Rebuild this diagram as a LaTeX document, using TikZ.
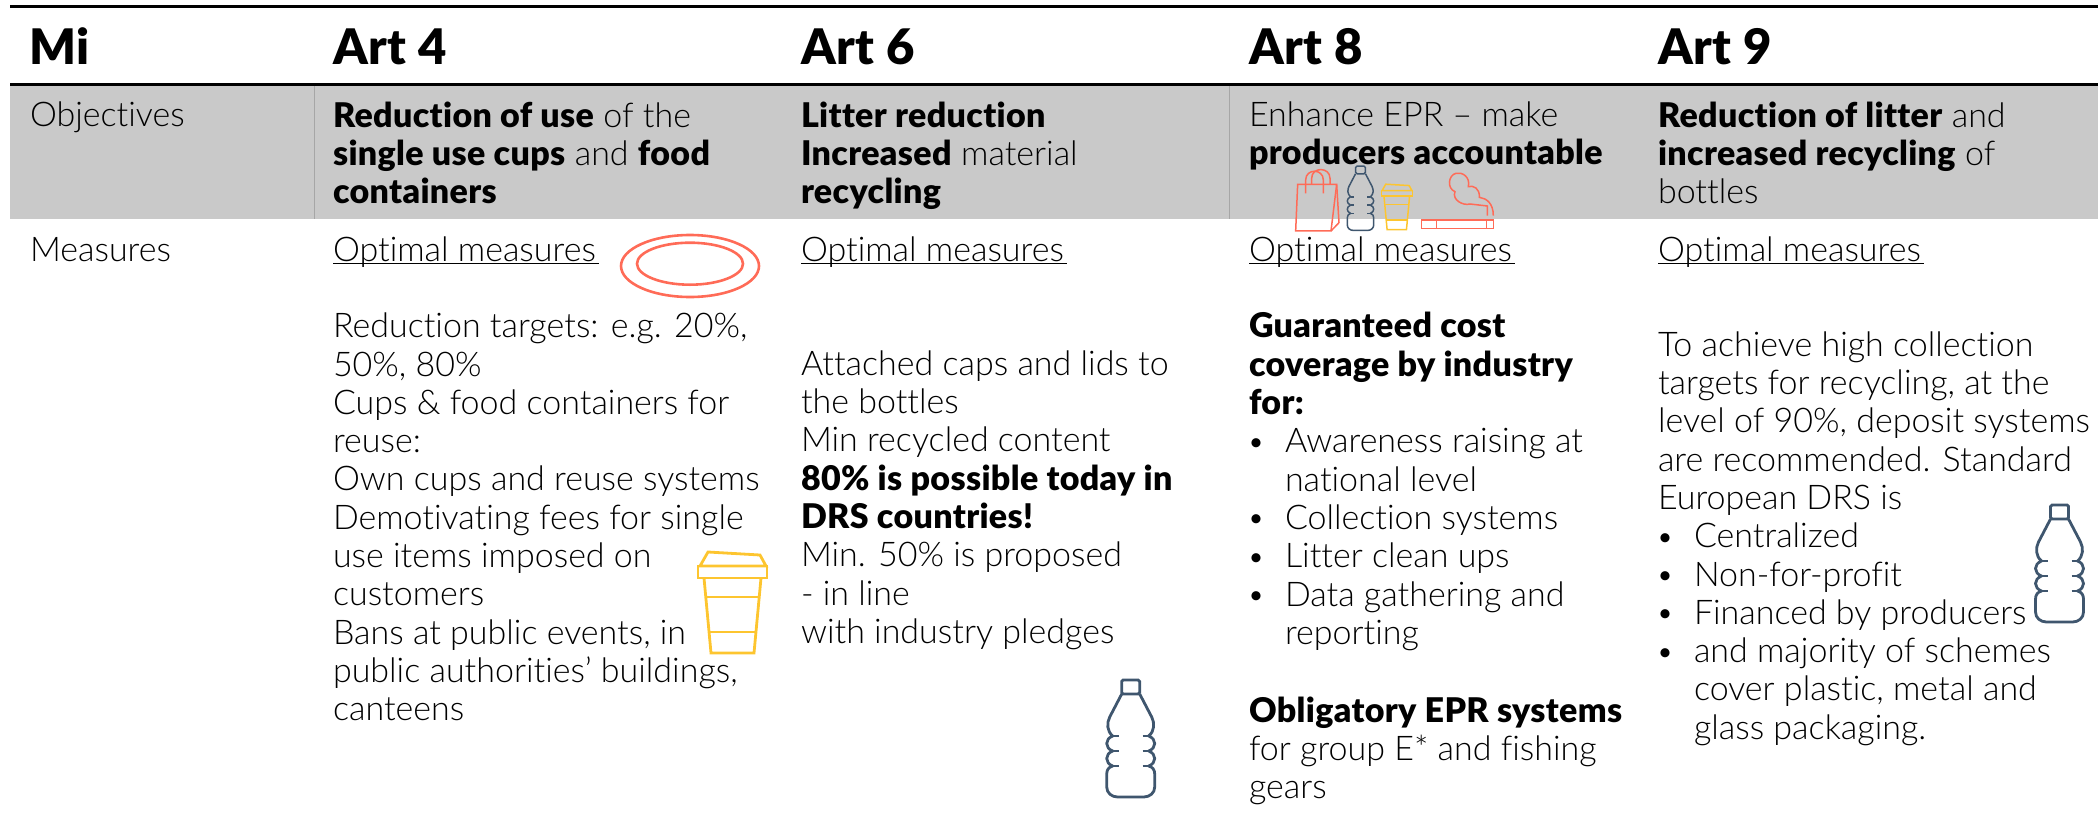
\documentclass[tikz,border=0pt]{standalone}
\usepackage{fontspec}
\setmainfont{Lato Light}[BoldFont={Lato Black},BoldFeatures={LetterSpace=1},Ligatures=NoCommon]
\definecolor{coral}{HTML}{FF6B57}
\definecolor{gold}{HTML}{FDC52F}
\definecolor{slateb}{HTML}{3F566E}
\definecolor{band}{HTML}{C9C9C9}
\tikzset{
  x=1pt,y=-1pt,
  body/.style={anchor=base west,inner sep=0pt,outer sep=0pt,align=left,font=\fontsize{34}{38.3}\selectfont},
  block/.style={body,anchor=north west,yshift=22.5pt,execute at begin node={\rule{0pt}{30pt}}},
  head/.style={anchor=base west,inner sep=0pt,outer sep=0pt,font=\fontsize{49}{50}\selectfont\bfseries},
  bottleicon/.pic={
    \draw[pic actions,rounded corners=1.5pt] (-9,-59) rectangle (9,-45);
    \draw[pic actions,line join=round] (-9,-45) -- (-21,-22) .. controls (-24,-16) and (-24,-8) .. (-18,-3)
      .. controls (-26,0) and (-26,9) .. (-18,12)
      .. controls (-26,15) and (-26,24) .. (-18,27)
      .. controls (-22,28) and (-24,31) .. (-24,35) -- (-24,48) .. controls (-24,54) and (-19,58) .. (-13,58)
      -- (13,58) .. controls (19,58) and (24,54) .. (24,48) -- (24,35)
      .. controls (24,31) and (22,28) .. (18,27)
      .. controls (26,24) and (26,15) .. (18,12)
      .. controls (26,9) and (26,0) .. (18,-3)
      .. controls (24,-8) and (24,-16) .. (21,-22) -- (9,-45);
    \draw[pic actions] (-12,-3) -- (-18,-3) (-12,12) -- (-18,12) (-12,27) -- (-18,27)
      (12,-3) -- (18,-3) (12,12) -- (18,12) (12,27) -- (18,27);
  },
  cupicon/.pic={
    \draw[pic actions,line join=miter] (-25,-34) -- (27,-31) -- (33,-20) -- (-33,-20) -- cycle;
    \draw[pic actions] (-35,-20) rectangle (34,-8);
    \draw[pic actions] (-29,-8) -- (-22,67) -- (21,67) -- (28,-8);
    \draw[pic actions] (-27,11) -- (26,11) (-24,46) -- (23,46);
  },
}
\newcommand{\bul}{\makebox[36pt][l]{\hspace*{-2pt}\raisebox{0.5pt}{\fontsize{31}{31}\selectfont •}}}
\newcommand{\ind}{\hspace*{36pt}}
\begin{document}
\begin{tikzpicture}
\useasboundingbox (0,0) rectangle (2098,830);
% rules and band
\fill[band] (10,85) rectangle (2098,219);
\draw[line width=2.2pt] (10,6.5) -- (2098,6.5);
\draw[line width=3pt] (10,84.5) -- (2098,84.5);
\draw[line width=1pt,color=black!35] (314,86) -- (314,219) (1229,86) -- (1229,219);
% headers
\node[head] (hMi) at (29,64) {Mi};
\node[head] (hA4) at (333,64) {Art 4};
\node[head] (hA6) at (801,64) {Art 6};
\node[head] (hA8) at (1249,64) {Art 8};
\node[head] (hA9) at (1658,64) {Art 9};
% objectives
\node[body] (oLab) at (30,126) {Objectives};
\node[block] (o4) at (333,124) {\textbf{Reduction of use} of the\\\textbf{single use cups} and \textbf{food}\\\textbf{containers}};
\node[block] (o6) at (801,124) {\textbf{Litter reduction}\\\textbf{Increased} material\\\textbf{recycling}};
\node[block] (o8) at (1249,124) {Enhance EPR – make\\\textbf{producers accountable}};
\node[block] (o9) at (1658,124) {\textbf{Reduction of litter} and\\\textbf{increased recycling} of\\bottles};
% measures labels
\node[body] (mLab) at (30,261) {Measures};
\foreach \n/\x in {m4/333,m6/801,m8/1249,m9/1658}{
  \node[body] (\n) at (\x,261) {Optimal measures};
  \draw[line width=1.6pt] (\n.base west) ++(0,2.5) -- ++(266,0);
}
% measures text
\node[block] (t4) at (333,335.5) {Reduction targets: e.g. 20\%,\\50\%, 80\%\\Cups \& food containers for\\reuse:\\Own cups and reuse systems\\Demotivating fees for single\\use items imposed on\\customers\\Bans at public events, in\\public authorities’ buildings,\\canteens};
\node[block] (t6) at (801,373) {Attached caps and lids to\\the bottles\\Min recycled content\\\textbf{80\% is possible today in}\\\textbf{DRS countries!}\\Min. 50\% is proposed\\- in line\\with industry pledges};
\node[block] (t8a) at (1249,335) {\textbf{Guaranteed cost}\\\textbf{coverage by industry}\\\textbf{for:}\\\bul Awareness raising at\\\ind national level\\\bul Collection systems\\\bul Litter clean ups\\\bul Data gathering and\\\ind reporting};
\node[block] (t8b) at (1249,719) {\textbf{Obligatory EPR systems}\\for group E* and fishing\\gears};
\node[block] (t9) at (1658,354) {To achieve high collection\\targets for recycling, at the\\level of 90\%, deposit systems\\are recommended. Standard\\European DRS is\\\bul Centralized\\\bul Non-for-profit\\\bul Financed by producers\\\bul and majority of schemes\\\ind cover plastic, metal and\\\ind glass packaging.};
% icons
\draw[coral,line width=2.6pt] (690,266) ellipse [x radius=69,y radius=31];
\draw[coral,line width=2.6pt] (690,263.7) ellipse [x radius=53,y radius=21];
\pic[gold,line width=2.8pt] at (733,586) {cupicon};
\pic[slateb,line width=2.8pt] at (1130.7,739) {bottleicon};
\pic[slateb,line width=2.8pt] at (2059.5,564) {bottleicon};
% small icons on measures column
\pic[slateb,line width=1.5pt,scale=0.55] at (1360.5,198.5) {bottleicon};
\pic[gold,line width=1.5pt,scale=0.45] at (1397,199.5) {cupicon};
\begin{scope}[coral,line width=1.5pt,shift={(1200,100)},x=0.3333pt,y=-0.3333pt]
  \draw (293,253) -- (410,253) -- (393,393) -- (287,393) -- cycle;
  \draw (410,253) -- (417,368) -- (393,393);
  \draw (317,280) -- (317,240) .. controls (317,205) and (370,205) .. (370,240) -- (370,280);
  \draw (335,253) -- (335,235) .. controls (335,200) and (390,200) .. (390,235) -- (390,253);
  \draw (665,360) rectangle (880,385);
  \draw (710,360) -- (710,385) (860,360) -- (860,385);
  \draw (880,347) .. controls (880,310) and (860,295) .. (838,292)
     .. controls (840,265) and (820,255) .. (805,260)
     .. controls (812,230) and (785,215) .. (768,220)
     .. controls (745,225) and (740,265) .. (765,275)
     .. controls (755,300) and (790,318) .. (810,312) -- (862,318) -- (862,347);
\end{scope}
\end{tikzpicture}
\end{document}
